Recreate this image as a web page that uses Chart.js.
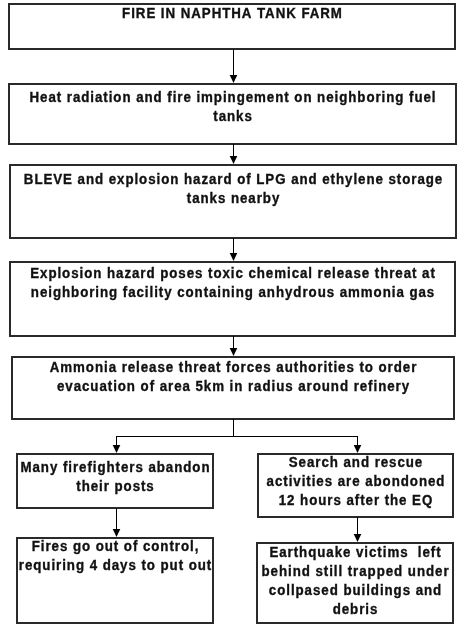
<!DOCTYPE html>
<html>
<head>
<meta charset="utf-8">
<script src="https://cdn.jsdelivr.net/npm/chart.js@4/dist/chart.umd.min.js"></script>
<style>
html,body{margin:0;padding:0;background:#fff;}
#wrap{width:461px;height:625px;position:relative;}
</style>
</head>
<body>
<div id="wrap"><canvas id="c"></canvas></div>
<script>
// ---- content (text of each step) ----
const stepTexts = [
  ["FIRE IN NAPHTHA TANK FARM"],
  ["Heat radiation and fire impingement on neighboring fuel", "tanks"],
  ["BLEVE and explosion hazard of LPG and ethylene storage", "tanks nearby"],
  ["Explosion hazard poses toxic chemical release threat at", "neighboring facility containing anhydrous ammonia gas"],
  ["Ammonia release threat forces authorities to order", "evacuation of area 5km in radius around refinery"],
  ["Many firefighters abandon", "their posts"],
  ["Search and rescue", "activities are abondoned", "12 hours after the EQ"],
  ["Fires go out of control,", "requiring 4 days to put out"],
  ["Earthquake victims  left", "behind still trapped under", "collpased buildings and", "debris"]
];
// links: [from, to]
const links = [[0,1],[1,2],[2,3],[3,4],[4,5],[4,6],[5,7],[6,8]];

// ---- layout (axis units) ----
const boxLayout = [ // x0, y0, x1, y1, text cap-top
  [9, 4, 455, 49, 8],
  [9, 84, 456, 144, 91.5],
  [10, 165, 456, 238, 174],
  [10, 262, 455, 336, 268],
  [12, 357, 454, 419, 362],
  [17, 454, 213, 508, 462],
  [258, 454, 453, 517, 457],
  [17, 538, 213, 623, 541],
  [257, 543, 453, 623, 547]
];
const splitY = 436;       // y of the branching line
const mainX = 233;        // x of the trunk
const branchX = [116, 357];

const flowPlugin = {
  id: 'flow',
  afterDraw(chart) {
    const ctx = chart.ctx;
    const xs = chart.scales.x, ys = chart.scales.y;
    const X = v => xs.getPixelForValue(v);
    const Y = v => ys.getPixelForValue(v);
    ctx.save();
    // boxes
    ctx.strokeStyle = '#2a2a2a';
    ctx.lineWidth = 2;
    boxLayout.forEach(b => {
      ctx.strokeRect(X(b[0]), Y(b[1]), X(b[2]) - X(b[0]), Y(b[3]) - Y(b[1]));
    });
    // text
    const sx = 0.95;
    ctx.fillStyle = '#111';
    ctx.strokeStyle = '#111';
    ctx.lineWidth = 0.35;
    ctx.font = 'bold 14px "Liberation Sans", Arial, sans-serif';
    if ('letterSpacing' in ctx) ctx.letterSpacing = '1.0px';
    ctx.textAlign = 'center';
    ctx.textBaseline = 'alphabetic';
    stepTexts.forEach((lines, i) => {
      const b = boxLayout[i];
      const cx = (X(b[0]) + X(b[2])) / 2 + 0.5;
      lines.forEach((t, k) => {
        ctx.save();
        ctx.translate(cx, Y(b[4]) + 10.1 + k * 18.9);
        ctx.scale(sx, 1);
        ctx.fillText(t, 0, 0);
        ctx.strokeText(t, 0, 0);
        ctx.restore();
      });
    });
    if ('letterSpacing' in ctx) ctx.letterSpacing = '0px';
    // connectors
    ctx.strokeStyle = '#000';
    ctx.fillStyle = '#000';
    ctx.lineWidth = 1;
    const arrowHead = (x, yTip) => {
      ctx.beginPath();
      ctx.moveTo(x - 3.8, yTip - 8);
      ctx.lineTo(x + 3.8, yTip - 8);
      ctx.lineTo(x, yTip);
      ctx.closePath();
      ctx.fill();
    };
    const vline = (x, y0, y1) => {
      ctx.beginPath();
      ctx.moveTo(Math.round(x) + 0.5, y0);
      ctx.lineTo(Math.round(x) + 0.5, y1);
      ctx.stroke();
    };
    links.forEach(([a, b]) => {
      const A = boxLayout[a], B = boxLayout[b];
      if (a === 4) {
        const bx = branchX[b - 5];
        vline(X(mainX), Y(A[3]), Y(splitY));
        ctx.beginPath();
        ctx.moveTo(X(Math.min(bx, mainX)), Math.round(Y(splitY)) + 0.5);
        ctx.lineTo(X(Math.max(bx, mainX)) + 1, Math.round(Y(splitY)) + 0.5);
        ctx.stroke();
        vline(X(bx), Y(splitY), Y(B[1]) - 6);
        arrowHead(X(bx) + 0.5, Y(B[1]) - 1);
      } else {
        const x = a < 4 ? mainX : branchX[a - 5];
        vline(X(x), Y(A[3]), Y(B[1]) - 6);
        arrowHead(X(x) + 0.5, Y(B[1]) - 1);
      }
    });
    ctx.restore();
  }
};

new Chart(document.getElementById('c'), {
  type: 'scatter',
  data: { datasets: [] },
  options: {
    responsive: true,
    maintainAspectRatio: false,
    animation: false,
    layout: { padding: 0 },
    scales: {
      x: { type: 'linear', min: 0, max: 461, display: false },
      y: { type: 'linear', min: 0, max: 625, reverse: true, display: false }
    },
    plugins: { legend: { display: false }, tooltip: { enabled: false } }
  },
  plugins: [flowPlugin]
});
</script>
</body>
</html>
